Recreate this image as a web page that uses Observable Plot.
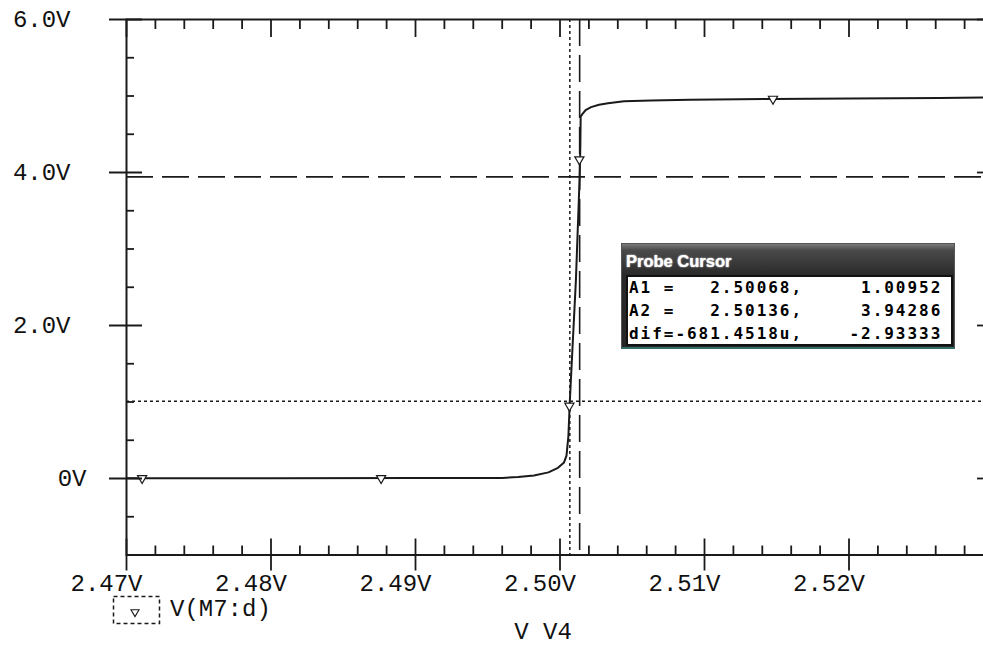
<!DOCTYPE html>
<html>
<head>
<meta charset="utf-8">
<script src="https://cdn.jsdelivr.net/npm/d3@7"></script>
<script src="https://cdn.jsdelivr.net/npm/@observablehq/plot@0.6"></script>
<style>
  html, body { margin: 0; padding: 0; background: #fff; }
  #wrap { position: relative; width: 983px; height: 648px; overflow: hidden; background: #fff;
          font-family: "Liberation Mono", "DejaVu Sans Mono", monospace; color: #111; }
  #chart { position: absolute; left: 0; top: 0; }
  #legend { position: absolute; left: 112px; top: 595px; height: 30px; display: flex; align-items: center; }
  #legend span { font-size: 24px; margin-left: 8px; line-height: 30px; }
  #xlabel { position: absolute; left: 443px; width: 200px; top: 620px; text-align: center; font-size: 24px; line-height: 26px; }
  #probe { position: absolute; left: 621px; top: 243px; width: 334px; height: 106px; box-sizing: border-box;
           background: linear-gradient(to bottom, #7a7a7a 0%, #4a4a4a 6%, #2a2a2a 30%, #262626 100%);
           border: 1px solid #555; border-bottom: 2px solid #2f6f66; }
  #probe .title { position: absolute; left: 4px; top: 8px; font-family: "Liberation Sans", Arial, sans-serif;
           font-weight: bold; font-size: 16.5px; color: #fff; text-shadow: 0 0 2px #bbb, 0 0 1px #fff; }
  #probe .body { position: absolute; left: 4px; top: 31px; width: 327px; height: 71px; box-sizing: border-box;
           background: #fff; border: 2px solid #111; }
  #probe .row { font-family: "DejaVu Sans Mono", monospace; font-weight: bold; font-size: 16px; letter-spacing: 1.97px;
           white-space: pre; line-height: 22.8px; padding-left: 1px; color: #000; }
</style>
</head>
<body>
<div id="wrap">
  <div id="chart"></div>
  <div id="legend"><svg id="legsym" width="50" height="30"></svg><span>V(M7:d)</span></div>
  <div id="xlabel">V V4</div>
  <div id="probe">
    <div class="title">Probe Cursor</div>
    <div class="body" id="probebody"></div>
  </div>
</div>
<script>
// ---- data ----
const sweepV4 = [2.47, 2.48, 2.49, 2.496, 2.4971, 2.4982, 2.4992, 2.49986, 2.50028, 2.50045, 2.50058, 2.50068,
                 2.5011, 2.50136, 2.50139, 2.50141, 2.50143, 2.50157, 2.5018, 2.50215, 2.5027, 2.50332,
                 2.50443, 2.5063, 2.509, 2.5147, 2.5201, 2.5263, 2.53];
const vM7d = [0.003, 0.004, 0.006, 0.008, 0.02, 0.04, 0.08, 0.14, 0.21, 0.3, 0.55, 1.00952,
              2.59, 3.94286, 4.18, 4.38, 4.73, 4.77, 4.82, 4.855, 4.885, 4.905,
              4.93, 4.94, 4.95, 4.962, 4.968, 4.975, 4.98];
const markerV4 = [2.47108, 2.48762, 2.50065, 2.50134, 2.51474];
const markerV = [0.003, 0.004, 0.95, 4.17, 4.962];

const xTickValues = [2.47, 2.48, 2.49, 2.50, 2.51, 2.52];
const xTickLabels = ["2.47V", "2.48V", "2.49V", "2.50V", "2.51V", "2.52V"];
const xMajor = [2.47, 2.48, 2.49, 2.50, 2.51, 2.52, 2.53];
const yTickValues = [6, 4, 2];
const yTickLabels = ["6.0V", "4.0V", "2.0V"];
const yZeroValue = [0];
const yZeroLabel = ["0V"];
const yMajor = [0, 2, 4, 6];
const yMinor = [-0.5, 0.5, 1, 1.5, 2.5, 3, 3.5, 4.5, 5, 5.5];

const cursorA1 = [2.50068, 1.00952];
const cursorA2 = [2.50136, 3.94286];
const probeRows = [
  "A1 =   2.50068,     1.00952",
  "A2 =   2.50136,     3.94286",
  "dif=-681.4518u,    -2.93333"
];

// minor x ticks every 0.002 V (excluding majors)
const xMinor = d3.range(0, 31).map(i => +(2.47 + i * 0.002).toFixed(3)).filter((d, i) => i % 5 !== 0);

// ---- layout ----
const W = 983, H = 592;
const mL = 126, mT = 19, mR = -10, mB = H - 554.5;
const plotW = W - mR - mL;
const plotH = H - mB - mT;

const curve = sweepV4.map((x, i) => ({x, y: vM7d[i]}));
const markers = markerV4.map((x, i) => ({x, y: markerV[i]}));
const ink = "#1a1a1a";

const chart = Plot.plot({
  width: W, height: H,
  marginLeft: mL, marginRight: mR, marginTop: mT, marginBottom: mB,
  x: {domain: [2.47, 2.53], axis: null},
  y: {domain: [-1, 6], axis: null},
  style: {fontFamily: "Liberation Mono, DejaVu Sans Mono, monospace", fontSize: "24px", color: "#111", background: "transparent", overflow: "visible"},
  marks: [
    // cursors
    Plot.ruleX([cursorA1[0]], {stroke: ink, strokeWidth: 1.5, strokeDasharray: "3,3"}),
    Plot.ruleY([cursorA1[1]], {stroke: ink, strokeWidth: 1.5, strokeDasharray: "3,3"}),
    Plot.ruleX([cursorA2[0]], {stroke: ink, strokeWidth: 1.6, strokeDasharray: "27,9"}),
    Plot.ruleY([cursorA2[1]], {stroke: ink, strokeWidth: 1.6, strokeDasharray: "27,9"}),
    // trace
    Plot.line(curve, {x: "x", y: "y", stroke: ink, strokeWidth: 2}),
    Plot.dot(markers, {x: "x", y: "y", symbol: "triangle", r: 3.4, rotate: 180, stroke: ink, fill: "white", strokeWidth: 1.2}),
    // frame
    Plot.frame({stroke: ink, strokeWidth: 2}),
    // bottom ticks
    Plot.ruleX(xMajor, {x: d => d, insetTop: plotH - 16, insetBottom: -16, stroke: ink, strokeWidth: 1.8}),
    Plot.ruleX(xMinor, {x: d => d, insetTop: plotH - 9, stroke: ink, strokeWidth: 1.8}),
    // top ticks
    Plot.ruleX(xMajor, {x: d => d, insetBottom: plotH - 18, stroke: ink, strokeWidth: 1.8}),
    Plot.ruleX(xMinor, {x: d => d, insetBottom: plotH - 10, stroke: ink, strokeWidth: 1.8}),
    // left ticks
    Plot.ruleY(yMajor, {y: d => d, insetLeft: -17, insetRight: plotW - 16, stroke: ink, strokeWidth: 1.8}),
    Plot.ruleY(yMinor, {y: d => d, insetRight: plotW - 8, stroke: ink, strokeWidth: 1.8}),
    // right ticks
    Plot.ruleY(yMajor, {y: d => d, insetLeft: plotW - 16, insetRight: -16, stroke: ink, strokeWidth: 1.8}),
    Plot.ruleY(yMinor, {y: d => d, insetLeft: plotW - 9, stroke: ink, strokeWidth: 1.8}),
    // tick labels
    Plot.text(xTickValues, {x: d => d, text: (d, i) => xTickLabels[i], frameAnchor: "bottom", dy: 28, dx: -20,
      lineAnchor: "middle", textAnchor: "middle", fill: "#111"}),
    Plot.text(yTickValues, {y: d => d, text: (d, i) => yTickLabels[i], frameAnchor: "left", dx: -56,
      lineAnchor: "middle", textAnchor: "end", fill: "#111"}),
    Plot.text(yZeroValue, {y: d => d, text: (d, i) => yZeroLabel[i], frameAnchor: "left", dx: -40,
      lineAnchor: "middle", textAnchor: "end", fill: "#111"})
  ]
});
document.getElementById("chart").appendChild(chart);

// legend symbol: dashed box with marker triangle
const leg = d3.select("#legsym");
leg.append("rect").attr("x", 1.5).attr("y", 1.5).attr("width", 46).attr("height", 27)
  .attr("fill", "none").attr("stroke", ink).attr("stroke-width", 1.5).attr("stroke-dasharray", "4,3");
leg.append("path").attr("d", d3.symbol(d3.symbolTriangle, 28)())
  .attr("transform", "translate(23,17) rotate(180)")
  .attr("fill", "white").attr("stroke", ink).attr("stroke-width", 1.1);

// probe cursor rows
d3.select("#probebody").selectAll("div").data(probeRows).join("div").attr("class", "row").text(d => d);
</script>
</body>
</html>
